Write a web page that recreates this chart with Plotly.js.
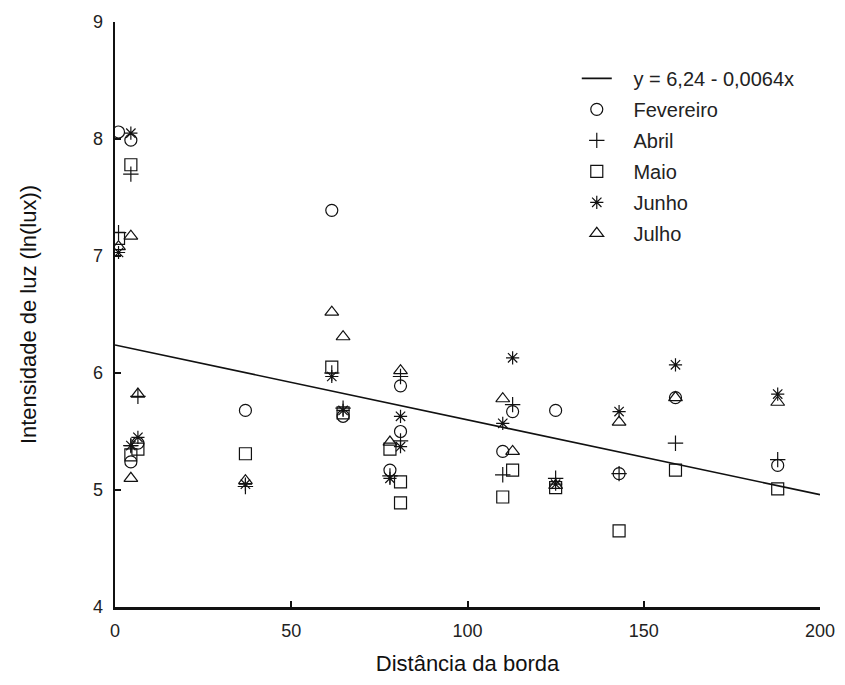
<!DOCTYPE html>
<html>
<head>
<meta charset="utf-8">
<script src="https://cdn.plot.ly/plotly-3.0.1.min.js"></script>
<style>html,body{margin:0;padding:0;background:#fff;}#chart{width:845px;height:685px;}</style>
</head>
<body>
<div id="chart"></div>
<script>
const fevX = [1, 4.5, 4.5, 6.5, 37, 61.5, 64.7, 78, 81, 81, 110, 112.8, 125, 143, 159, 188];
const fevY = [8.06, 7.99, 5.24, 5.40, 5.68, 7.39, 5.63, 5.17, 5.89, 5.50, 5.33, 5.67, 5.68, 5.14, 5.79, 5.21];

const abrX = [1, 4.5, 4.5, 6.5, 37, 61.5, 64.7, 78, 81, 81, 110, 112.8, 125, 143, 159, 188];
const abrY = [7.20, 7.70, 5.38, 5.80, 5.03, 6.00, 5.70, 5.12, 5.97, 5.42, 5.13, 5.73, 5.10, 5.14, 5.40, 5.26];

const maiX = [1, 4.5, 4.5, 6.5, 37, 61.5, 64.7, 78, 81, 81, 110, 112.8, 125, 143, 159, 188];
const maiY = [7.15, 7.78, 5.30, 5.35, 5.31, 6.05, 5.66, 5.35, 5.07, 4.89, 4.94, 5.17, 5.02, 4.65, 5.17, 5.01];

const junX = [1, 4.5, 4.5, 6.5, 37, 61.5, 64.7, 78, 81, 81, 110, 112.8, 125, 143, 159, 188];
const junY = [7.03, 8.05, 5.38, 5.45, 5.05, 5.97, 5.68, 5.10, 5.63, 5.37, 5.57, 6.13, 5.05, 5.67, 6.07, 5.82];

const julX = [1, 4.5, 4.5, 6.5, 37, 61.5, 64.7, 78, 81, 110, 112.8, 125, 143, 159, 188];
const julY = [7.08, 7.17, 5.10, 5.82, 5.08, 6.52, 6.31, 5.41, 6.02, 5.78, 5.33, 5.04, 5.58, 5.79, 5.75];

const fitIntercept = 6.24;
const fitSlope = -0.0064;
const fitX = [0, 200];
const fitY = fitX.map(x => fitIntercept + fitSlope * x);

const pad = '\u00a0\u00a0\u00a0';
const font = 'Liberation Sans, Arial, sans-serif';
const mk = (sym, size) => ({symbol: sym, size: size, color: '#111', line: {color: '#111', width: 1.2}});

const traces = [
  {x: fitX, y: fitY, mode: 'lines', name: pad + 'y = 6,24 - 0,0064x', line: {color: '#111', width: 1.6}, legendgroup: 'a'},
  {x: fevX, y: fevY, mode: 'markers', name: pad + 'Fevereiro', marker: mk('circle-open', 12), legendgroup: 'b'},
  {x: abrX, y: abrY, mode: 'markers', name: pad + 'Abril', marker: mk('cross-thin-open', 11), legendgroup: 'c'},
  {x: maiX, y: maiY, mode: 'markers', name: pad + 'Maio', marker: mk('square-open', 12), legendgroup: 'd'},
  {x: junX, y: junY, mode: 'markers', name: pad + 'Junho', marker: mk('asterisk-open', 11), legendgroup: 'e'},
  {x: julX, y: julY, mode: 'markers', name: pad + 'Julho', marker: mk('triangle-up-open', 12), legendgroup: 'f'}
];

const layout = {
  width: 845, height: 685,
  margin: {l: 115, r: 25, t: 22, b: 78},
  paper_bgcolor: '#fff', plot_bgcolor: '#fff',
  font: {family: font, color: '#222', size: 18},
  showlegend: true,
  legend: {x: 0.655, y: 0.937, xanchor: 'left', yanchor: 'top', bgcolor: 'rgba(0,0,0,0)',
           font: {family: font, size: 20, color: '#222'}, traceorder: 'grouped', tracegroupgap: 2},
  xaxis: {range: [0, 200], tickvals: [0, 50, 100, 150, 200], showgrid: false, zeroline: false,
          showline: true, linecolor: '#111', linewidth: 2.5, ticks: 'inside', ticklen: 6, tickwidth: 2, tickcolor: '#111',
          ticklabelstandoff: 6,
          tickfont: {size: 18, family: font, color: '#222'},
          title: {text: 'Distância da borda', font: {size: 22, family: font, color: '#111'}, standoff: 16}},
  yaxis: {range: [4, 9], tickvals: [4, 5, 6, 7, 8, 9], showgrid: false, zeroline: false,
          showline: true, linecolor: '#111', linewidth: 2.5, ticks: 'inside', ticklen: 6, tickwidth: 2, tickcolor: '#111',
          ticklabelstandoff: 6,
          tickfont: {size: 18, family: font, color: '#222'},
          title: {text: 'Intensidade de luz (ln(lux))', font: {size: 22, family: font, color: '#111'}, standoff: 50}}
};

Plotly.newPlot('chart', traces, layout, {displayModeBar: false, staticPlot: true});
</script>
</body>
</html>
